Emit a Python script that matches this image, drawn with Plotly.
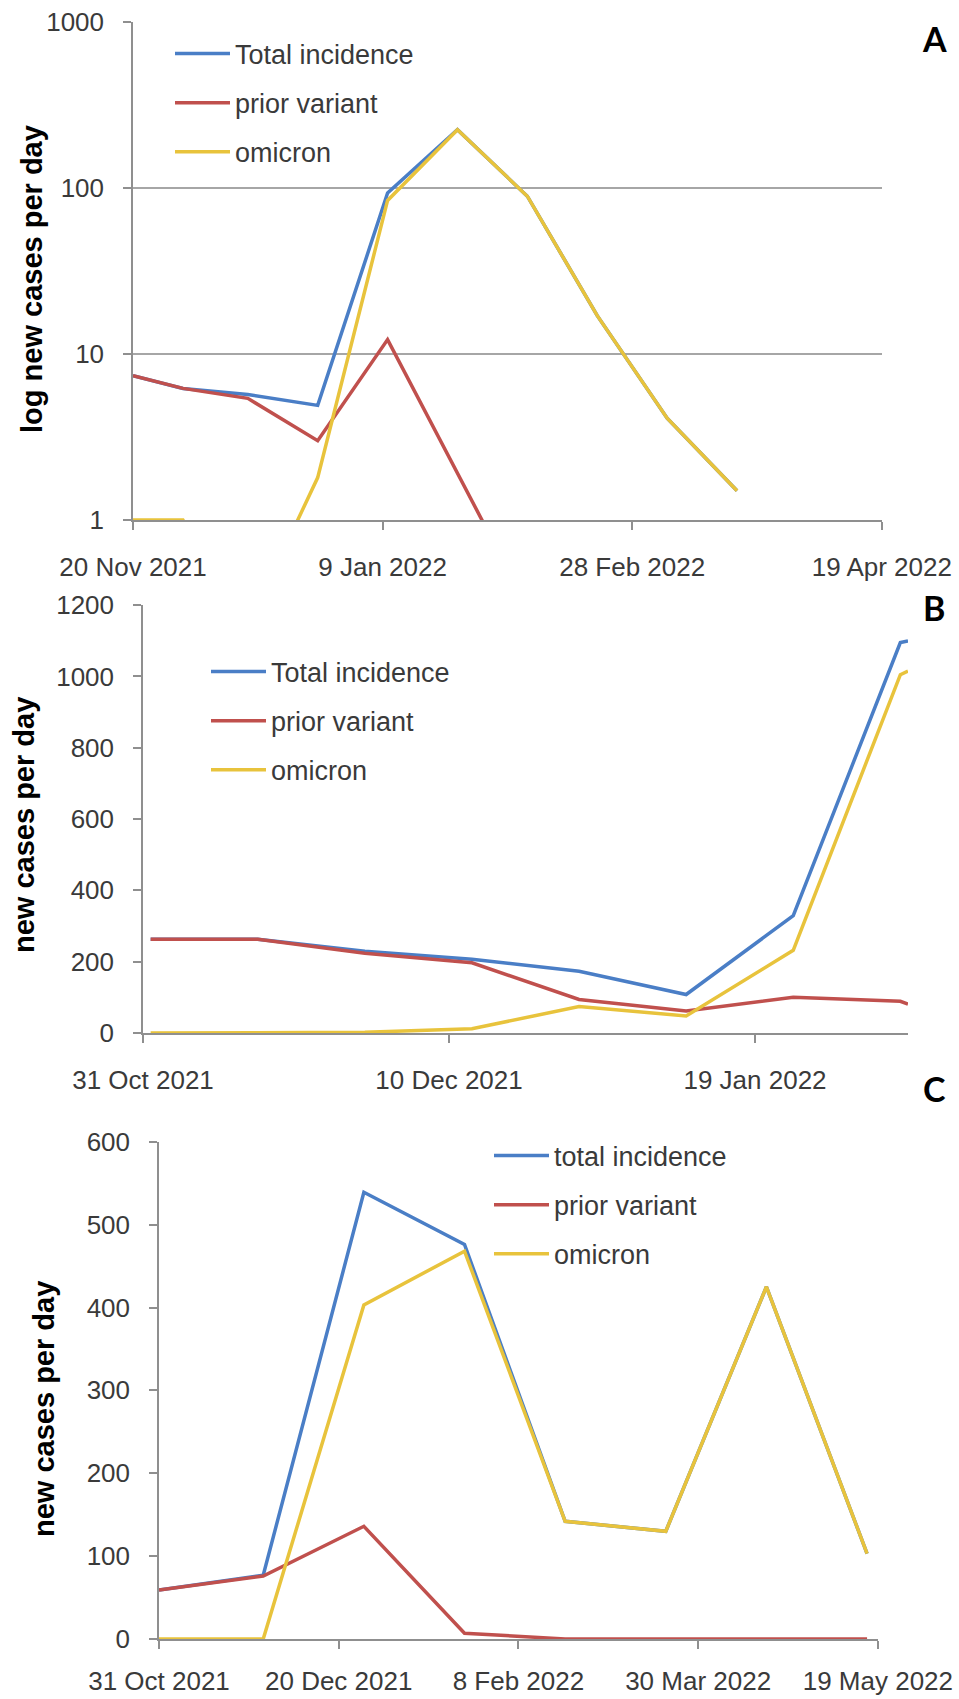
import plotly.graph_objects as go

# ---- data ----
series_names_A = ["Total incidence", "prior variant", "omicron"]
series_names_B = ["Total incidence", "prior variant", "omicron"]
series_names_C = ["total incidence", "prior variant", "omicron"]

# panel A (log scale)
a_dates = ["2021-11-20", "2021-11-30", "2021-12-13", "2021-12-27", "2022-01-10",
           "2022-01-24", "2022-02-07", "2022-02-21", "2022-03-07", "2022-03-21"]
a_total = [7.4, 6.2, 5.7, 4.9, 93, 224, 89, 17, 4.1, 1.5]
a_prior = [7.4, 6.2, 5.4, 3.0, 12.2, 1.9, 0.3, 0, 0, 0]
a_omicron = [1, 1, 0.23, 1.8, 84, 224, 89, 17, 4.1, 1.5]
a_ticks = ["2021-11-20", "2022-01-09", "2022-02-28", "2022-04-19"]
a_ticklabels = ["20 Nov 2021", "9 Jan 2022", "28 Feb 2022", "19 Apr 2022"]

# panel B
b_dates = ["2021-11-01", "2021-11-15", "2021-11-29", "2021-12-13", "2021-12-27",
           "2022-01-10", "2022-01-24", "2022-02-07", "2022-02-08"]
b_total = [263, 263, 229, 207, 173, 108, 329, 1095, 1100]
b_prior = [263, 263, 224, 197, 94, 62, 100, 89, 81]
b_omicron = [0, 0, 2, 12, 74, 48, 232, 1005, 1015]
b_ticks = ["2021-10-31", "2021-12-10", "2022-01-19"]
b_ticklabels = ["31 Oct 2021", "10 Dec 2021", "19 Jan 2022"]

# panel C
c_dates = ["2021-10-31", "2021-11-29", "2021-12-27", "2022-01-24", "2022-02-21",
           "2022-03-21", "2022-04-18", "2022-05-16"]
c_total = [59, 77, 539, 476, 142, 130, 425, 103]
c_prior = [59, 76, 136, 7, 0, 0, 0, 0]
c_omicron = [0, 0, 403, 468, 142, 130, 425, 103]
c_ticks = ["2021-10-31", "2021-12-20", "2022-02-08", "2022-03-30", "2022-05-19"]
c_ticklabels = ["31 Oct 2021", "20 Dec 2021", "8 Feb 2022", "30 Mar 2022", "19 May 2022"]

# ---- styling ----
W, H = 959, 1699
COLORS = ["#4a7ec6", "#c0504d", "#e8c33c"]
AXIS = "#8f8f8f"
TXT = "#3a3a3a"
FONT = "Liberation Sans, Arial, sans-serif"
tickfont = dict(family=FONT, size=26, color=TXT)


def fx(px):
    return px / W


def fy(py):
    return 1 - py / H


fig = go.Figure()

panels = [
    ("x", "y", "legend", a_dates, [a_total, a_prior, a_omicron], series_names_A),
    ("x2", "y2", "legend2", b_dates, [b_total, b_prior, b_omicron], series_names_B),
    ("x3", "y3", "legend3", c_dates, [c_total, c_prior, c_omicron], series_names_C),
]
for xa, ya, lg, dates, ys, names in panels:
    for j in range(3):
        fig.add_trace(go.Scatter(
            x=dates, y=ys[j], name=names[j], mode="lines",
            line=dict(color=COLORS[j], width=3.5),
            xaxis=xa, yaxis=ya, legend=lg, legendgroup=f"{lg}{j}",
        ))


def xaxis(dom, anchor, rng, ticks, labels, standoff=15):
    return dict(domain=dom, anchor=anchor, type="date", range=rng,
                tickvals=ticks, ticktext=labels, ticks="outside", ticklen=8,
                tickcolor=AXIS, tickwidth=1.5, showline=True, linecolor=AXIS,
                linewidth=1.5, showgrid=False, zeroline=False, tickfont=tickfont,
                ticklabelstandoff=standoff, automargin=False)


def yaxis(dom, anchor, **kw):
    d = dict(domain=dom, anchor=anchor, ticks="outside", ticklen=8,
             tickcolor=AXIS, tickwidth=1.5, showline=True, linecolor=AXIS,
             linewidth=1.5, zeroline=False, tickfont=tickfont,
             ticklabelstandoff=14, automargin=False)
    d.update(kw)
    return d


def legend(x, y):
    return dict(x=fx(x), y=fy(y), xanchor="left", yanchor="top",
                font=dict(family=FONT, size=27, color=TXT),
                bgcolor="rgba(0,0,0,0)", itemwidth=55, tracegroupgap=11)


fig.update_layout(
    width=W, height=H, margin=dict(l=0, r=0, t=0, b=0),
    paper_bgcolor="white", plot_bgcolor="white", showlegend=True,
    xaxis=xaxis([fx(133), fx(882)], "y", ["2021-11-20", "2022-04-19 01:00"], a_ticks, a_ticklabels),
    yaxis=yaxis([fy(520), fy(21.7)], "x", type="log", range=[0, 3.0003],
                tickvals=[1, 10, 100, 1000], ticktext=["1", "10", "100", "1000"],
                showgrid=True, gridcolor="#a6a6a6", gridwidth=2),
    xaxis2=xaxis([fx(143), fx(908)], "y2", ["2021-10-31", "2022-02-08"], b_ticks, b_ticklabels),
    yaxis2=yaxis([fy(1033), fy(605)], "x2", range=[0, 1200.5], dtick=200, showgrid=False),
    xaxis3=xaxis([fx(159), fx(878)], "y3", ["2021-10-31", "2022-05-19 01:00"], c_ticks, c_ticklabels,
                 standoff=10),
    yaxis3=yaxis([fy(1639), fy(1141.5)], "x3", range=[0, 600.3], dtick=100, showgrid=False),
    legend=legend(170, 29.5),
    legend2=legend(206, 647.5),
    legend3=legend(489, 1131.5),
)

title_font = dict(family=FONT, size=29, color="black", weight="bold")
label_font = dict(family="Lato, sans-serif", size=34, color="black", weight="bold")
for text, x, y in [("log new cases per day", 32, 279), ("new cases per day", 24, 825),
                   ("new cases per day", 44, 1409)]:
    fig.add_annotation(text=text, x=fx(x), y=fy(y), xref="paper", yref="paper",
                       textangle=-90, showarrow=False, font=title_font,
                       xanchor="center", yanchor="middle")
for text, x, y in [("A", 934, 38), ("B", 934, 607), ("C", 934, 1088)]:
    fig.add_annotation(text=text, x=fx(x), y=fy(y), xref="paper", yref="paper",
                       showarrow=False, font=label_font, xanchor="center", yanchor="middle")

fig.write_html("out.html", config={"displayModeBar": False},
               post_script="document.body.style.margin='0';document.body.style.overflow='hidden';")
